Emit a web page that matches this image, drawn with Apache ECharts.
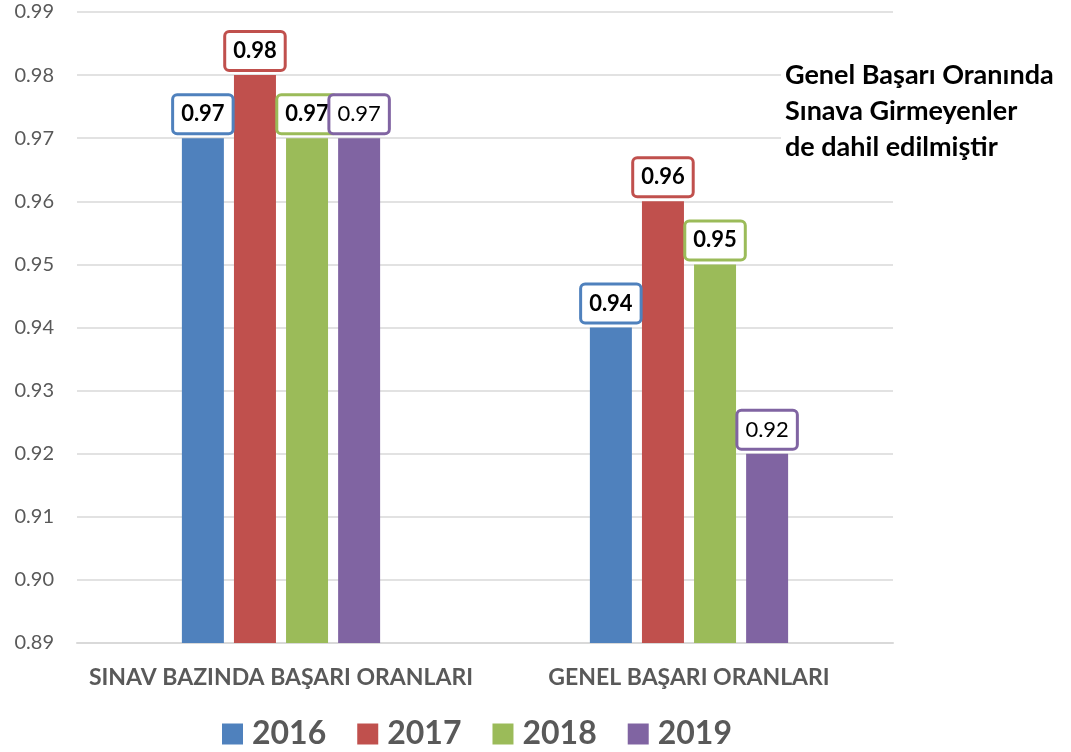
<!DOCTYPE html>
<html>
<head>
<meta charset="utf-8">
<script src="https://cdn.jsdelivr.net/npm/echarts@6/dist/echarts.min.js"></script>
<style>
html,body{margin:0;padding:0;background:#fff;}
#chart{width:1071px;height:752px;}
</style>
</head>
<body>
<div id="chart"></div>
<script>
var categories = ['SINAV BAZINDA BAŞARI ORANLARI', 'GENEL BAŞARI ORANLARI'];
var seriesNames = ['2016', '2017', '2018', '2019'];
var values2016 = [0.97, 0.94];
var values2017 = [0.98, 0.96];
var values2018 = [0.97, 0.95];
var values2019 = [0.97, 0.92];
var colors = ['#4F81BD', '#C0504D', '#9BBB59', '#8064A2'];
var noteLines = ['Genel Başarı Oranında', 'Sınava Girmeyenler', 'de dahil edilmiştir'];

var allValues = [values2016, values2017, values2018, values2019];
var FONT = 'Lato, "Open Sans", sans-serif';

var chart = echarts.init(document.getElementById('chart'));
var series = seriesNames.map(function (name, i) {
  return {
    name: name,
    type: 'bar',
    data: allValues[i],
    barWidth: 42,
    barGap: '24%',
    itemStyle: { color: colors[i] },
    label: {
      show: true,
      position: 'top',
      distance: 6,
      formatter: function (p) { return p.value.toFixed(2); },
      color: '#000',
      fontFamily: FONT,
      fontSize: 22,
      fontWeight: i === 3 ? 'normal' : 'bold',
      backgroundColor: '#fff',
      borderColor: colors[i],
      borderWidth: 3,
      borderRadius: 3,
      padding: [6, 7, 6, 7],
      lineHeight: 24
    }
  };
});

chart.setOption({
  animation: false,
  color: colors,
  grid: { left: 77, right: 178, top: 12, bottom: 109, containLabel: false },
  legend: {
    data: seriesNames,
    left: 217,
    top: 713,
    itemWidth: 21,
    itemHeight: 21,
    itemGap: 31,
    icon: 'rect',
    textStyle: { fontFamily: FONT, fontSize: 32, fontWeight: 'bold', color: '#595959', padding: [0, 0, 0, 4] }
  },
  xAxis: {
    type: 'category',
    data: categories,
    axisTick: { show: false },
    axisLine: { lineStyle: { color: '#d9d9d9', width: 2 } },
    axisLabel: { interval: 0, margin: 23, fontFamily: FONT, fontSize: 23, fontWeight: 'bold', color: '#595959' }
  },
  yAxis: {
    type: 'value',
    min: 0.89,
    max: 0.99,
    interval: 0.01,
    axisLine: { show: false },
    axisTick: { show: false },
    splitLine: { lineStyle: { color: '#d9d9d9', width: 1.5 } },
    axisLabel: {
      margin: 23,
      fontFamily: FONT,
      fontSize: 20,
      color: '#595959',
      formatter: function (v) { return v.toFixed(2); }
    }
  },
  graphic: [{
    type: 'text',
    left: 781,
    top: 55,
    z: 100,
    style: {
      text: noteLines.join('\n'),
      fontFamily: FONT,
      fontSize: 27,
      fontWeight: 'bold',
      lineHeight: 36,
      fill: '#000',
      backgroundColor: '#fff',
      padding: [2, 4, 2, 4]
    }
  }],
  series: series
});
</script>
</body>
</html>
